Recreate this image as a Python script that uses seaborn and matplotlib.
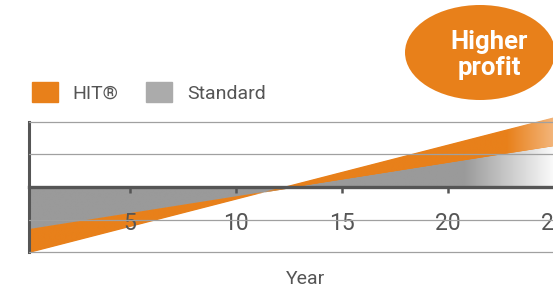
import numpy as np
import pandas as pd
import matplotlib
matplotlib.use("Agg")
import matplotlib.pyplot as plt
import seaborn as sns
from matplotlib import font_manager
from matplotlib.patches import Ellipse, Patch

# data (profit over the years, arbitrary units)
years = [0, 25]
hit = [-2.04, 2.13]
standard = [-1.31, 1.25]
tick_years = [5, 10, 15, 20, 25]
legend_labels = ["HIT®", "Standard"]
bubble_text = "Higher\nprofit"
x_label = "Year"

ORANGE = "#E8801A"
GRAY = "#9A9A9A"
LEGEND_GRAY = "#ABABAB"
TEXT = "#555555"

sns.set_theme(style="white")
installed = {f.name for f in font_manager.fontManager.ttflist}
cond = "Roboto Condensed" if "Roboto Condensed" in installed else "Roboto"
plt.rcParams["font.family"] = ["Roboto", "DejaVu Sans"]

df = pd.DataFrame({"Year": years, "HIT": hit, "Standard": standard})

fig = plt.figure(figsize=(5.53, 2.93), dpi=100)
ax = fig.add_axes([29 / 553, 0.1328, (555 - 29) / 553, 0.6075 - 0.1328])

gray_fill = ax.fill_between(df["Year"], 0, df["Standard"], color=GRAY, lw=0, zorder=1)
orange_fill = ax.fill_between(df["Year"], df["Standard"], df["HIT"], color=ORANGE, lw=0, zorder=1)


# fade the right end of each area towards white
def fade(coll, solid, end, start, stop):
    xs = np.linspace(0, 25.05, 400)
    t = np.clip((xs - start) / (stop - start), 0, 1)
    c0 = np.array(matplotlib.colors.to_rgb(solid))
    c1 = np.array(matplotlib.colors.to_rgb(end))
    img = ((1 - t)[:, None] * c0 + t[:, None] * c1)[None, :, :]
    im = ax.imshow(img, extent=[0, 25.05, -2.05, 2.2], aspect="auto",
                   zorder=1.5, interpolation="bilinear")
    im.set_clip_path(coll.get_paths()[0], ax.transData)


fade(gray_fill, GRAY, "#FAFAFA", 20.8, 25.0)
fade(orange_fill, ORANGE, "#F3B57A", 22.8, 25.0)

ax.set_xlim(0.25, 25.05)
ax.set_ylim(-2.05, 2.2)
ax.set_axisbelow(False)

ax.set_yticks([-2, -1, 1, 2])
ax.yaxis.grid(True, color="#A0A0A0", lw=0.9)
ax.xaxis.grid(False)
ax.tick_params(axis="y", left=False, labelleft=False)

ax.set_xticks(tick_years)
ax.set_xticklabels([str(t) for t in tick_years], fontfamily=cond, fontweight="medium")
ax.tick_params(axis="x", direction="out", length=4.5, width=1.8, color=TEXT,
               pad=13.5, labelsize=16.5, labelcolor=TEXT, bottom=True)

for s in ["top", "right"]:
    ax.spines[s].set_visible(False)
ax.spines["left"].set_bounds(-2, 2)
ax.spines["left"].set_color(TEXT)
ax.spines["left"].set_linewidth(2.2)
ax.spines["bottom"].set_position(("data", 0))
ax.spines["bottom"].set_color(TEXT)
ax.spines["bottom"].set_linewidth(2.4)

fig.text(306 / 553, 1 - 279 / 293, x_label, ha="center", va="center",
         fontsize=14, color=TEXT)

fig.legend(handles=[Patch(color=ORANGE), Patch(color=LEGEND_GRAY)],
           labels=legend_labels, loc="center left",
           bbox_to_anchor=(32 / 553, 1 - 92.5 / 293), ncol=2, frameon=False,
           fontsize=14, handlelength=1.35, handleheight=1.2, handletextpad=0.75,
           columnspacing=1.4, borderpad=0, borderaxespad=0, labelcolor=TEXT)

fig.add_artist(Ellipse((480 / 553, 1 - 52.5 / 293), 150 / 553, 95 / 293,
                       transform=fig.transFigure, color=ORANGE, lw=0))
fig.text(489 / 553, 1 - 55 / 293, bubble_text, ha="center", va="center",
         color="white", fontsize=18.5, fontweight="bold", linespacing=1.15)

fig.savefig("out.png", dpi=100)
